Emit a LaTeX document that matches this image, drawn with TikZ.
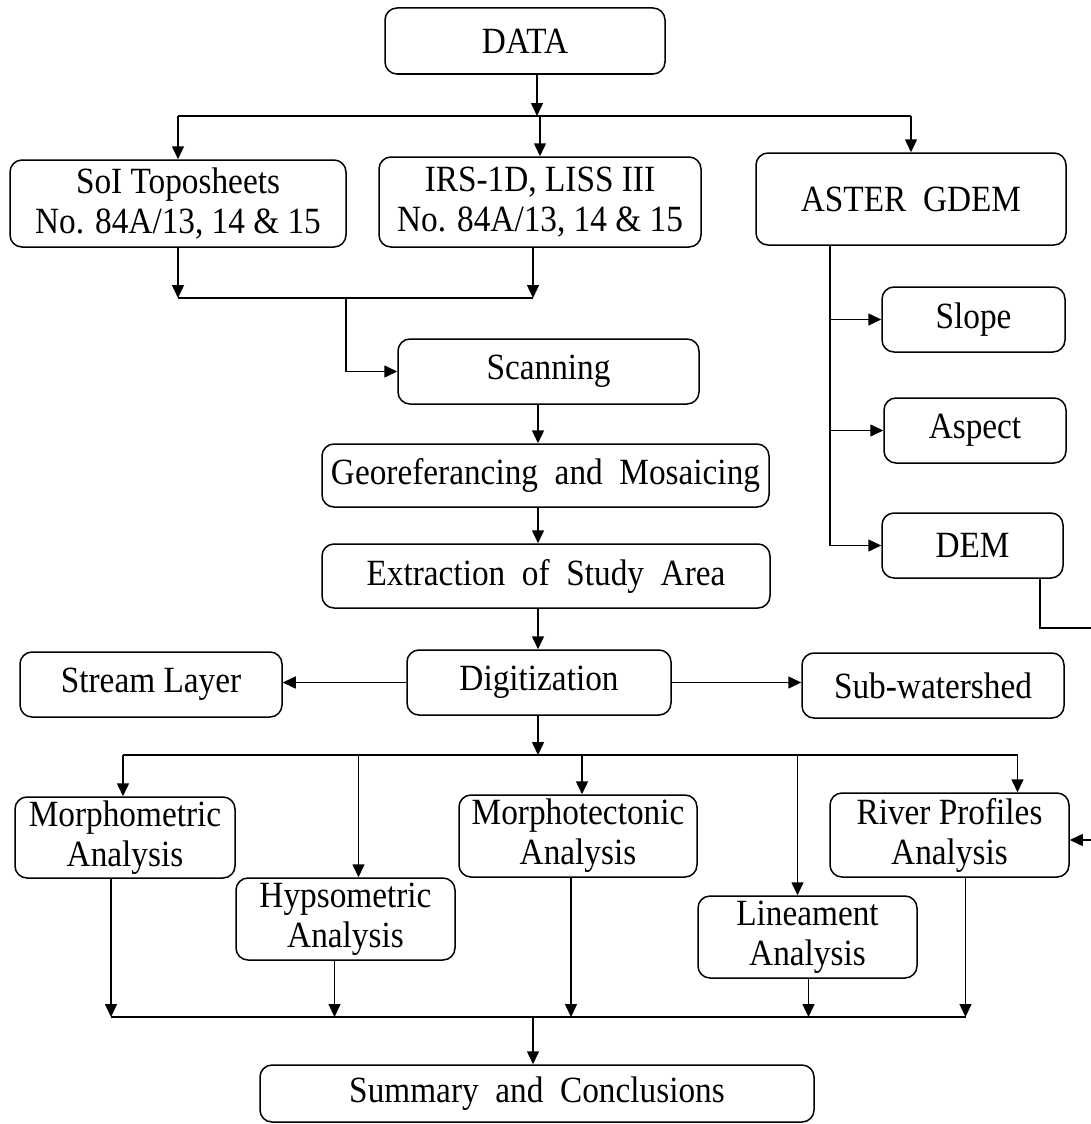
\documentclass[tikz,border=0pt]{standalone}
\usepackage{fontspec}
\setmainfont{Liberation Serif}[FakeStretch=0.9]
\usepackage{tikz}
\usetikzlibrary{arrows.meta}
\newcommand{\wsp}{\hspace{0.45em}}

\tikzset{
  box/.style={draw, line width=1.5pt, rounded corners=12pt, align=center,
    inner sep=2pt, font=\fontsize{37}{40}\selectfont},
  arr/.style={line width=1.5pt, -{Triangle[length=13pt,width=12pt]}},
  ln/.style={line width=1.5pt}
}

\begin{document}
\begin{tikzpicture}[x=1pt,y=-1pt]
\useasboundingbox (0,0) rectangle (1091,1124);
% boxes
\node[box, minimum width=280, minimum height=66] (data) at (525,41) {DATA};
\node[box, minimum width=336, minimum height=87] (soi) at (178,203.5) {SoI Toposheets\\No. 84A/13, 14 \& 15};
\node[box, minimum width=322, minimum height=90] (irs) at (540,202) {IRS-1D, LISS III\\No. 84A/13, 14 \& 15};
\node[box, minimum width=310, minimum height=92] (aster) at (911,199) {ASTER\wsp GDEM};
\node[box, minimum width=183, minimum height=65] (slope) at (973.5,319.5) {Slope};
\node[box, minimum width=182, minimum height=65] (aspect) at (975,430.5) {Aspect};
\node[box, minimum width=181, minimum height=65] (dem) at (972.5,545.5) {DEM};
\node[box, minimum width=301, minimum height=65] (scan) at (548.5,371.5) {Scanning};
\node[box, minimum width=447, minimum height=63] (geo) at (545.5,475.5) {Georeferancing\wsp and\wsp Mosaicing};
\node[box, minimum width=448, minimum height=64] (extr) at (546,576) {Extraction\wsp of\wsp Study\wsp Area};
\node[box, minimum width=264, minimum height=65] (dig) at (539,682.5) {Digitization};
\node[box, minimum width=262, minimum height=65] (stream) at (151,684.5) {Stream Layer};
\node[box, minimum width=262, minimum height=65] (sub) at (933,685.5) {Sub-watershed};
\node[box, minimum width=220, minimum height=81] (morm) at (125,837.5) {Morphometric\\Analysis};
\node[box, minimum width=219, minimum height=82] (hyps) at (345.5,919) {Hypsometric\\Analysis};
\node[box, minimum width=238, minimum height=82] (mort) at (578,836) {Morphotectonic\\Analysis};
\node[box, minimum width=219, minimum height=82] (line) at (807.5,937) {Lineament\\Analysis};
\node[box, minimum width=239, minimum height=84] (river) at (949.5,835) {River Profiles\\Analysis};
\node[box, minimum width=554, minimum height=57] (summ) at (537,1093.5) {Summary\wsp and\wsp Conclusions};

% junctions
\coordinate (j1) at (537,116);
\coordinate (j2) at (346,298);
\coordinate (jv) at (830,545);
\coordinate (jd) at (1040,628);
\coordinate (edgeA) at (1091,628);
\coordinate (edgeB) at (1091,840);
\coordinate (mid) at (538,0);
\coordinate (bt) at (538,755);
\coordinate (bb) at (533,1017);

% data to sources
\draw[arr] (data.south -| j1) -- (j1);
\draw[ln] (j1 -| soi) -- (j1 -| aster);
\foreach \n in {soi, irs, aster}
  \draw[arr] (j1 -| \n) -- (\n.north);

% sources to scanning
\draw[arr] (soi.south) -- (soi.south |- j2);
\draw[arr] ([xshift=-7pt]irs.south) -- ([xshift=-7pt]irs.south |- j2);
\draw[ln] (soi.south |- j2) -- ([xshift=-7pt]irs.south |- j2);
\draw[arr] (j2) |- (scan.west);

% aster branches
\draw[arr] (aster.south -| jv) |- (dem.west);
\draw[arr] (jv |- slope) -- (slope.west);
\draw[arr] (jv |- aspect) -- (aspect.west);
\draw[ln] (dem.south -| jd) -- (jd) -- (edgeA);
\draw[arr] (edgeB) -- (river.east |- edgeB);

% main column
\draw[arr] (scan.south -| mid) -- (geo.north -| mid);
\draw[arr] (geo.south -| mid) -- (extr.north -| mid);
\draw[arr] (extr.south -| mid) -- (dig.north -| mid);
\draw[arr] (dig.west) -- (dig.west -| stream.east);
\draw[arr] (dig.east) -- (dig.east -| sub.west);

% analyses
\draw[arr] (dig.south -| bt) -- (bt);
\draw[ln] ([xshift=-2pt]morm.north |- bt) -- ([xshift=68pt]river.north |- bt);
\foreach \n/\dx in {morm/-2, hyps/13, mort/4, line/-10, river/68}
  \draw[arr] ([xshift=\dx pt]\n.north |- bt) -- ([xshift=\dx pt]\n.north);
\foreach \n/\dx in {morm/-14, hyps/-11, mort/-7, line/1, river/16}
  \draw[arr] ([xshift=\dx pt]\n.south) -- ([xshift=\dx pt]\n.south |- bb);
\draw[ln] ([xshift=-14pt]morm.south |- bb) -- ([xshift=16pt]river.south |- bb);
\draw[arr] (bb) -- (bb |- summ.north);
\end{tikzpicture}
\end{document}
